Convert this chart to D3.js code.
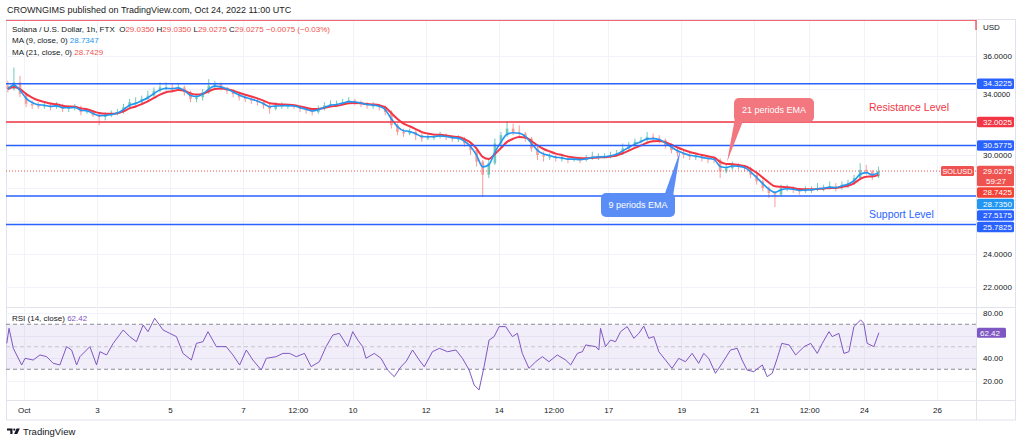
<!DOCTYPE html>
<html><head><meta charset="utf-8">
<script src="https://cdn.jsdelivr.net/npm/d3@7"></script>
<style>
body{margin:0;background:#fff}
svg{display:block}
text{font-family:"Liberation Sans",Arial,sans-serif}
</style></head>
<body><svg id="c" width="1024" height="443"></svg>
<script>
// ---------- data ----------
const startTime = "2022-09-30T12:00:00Z";
const candleStepHours = 4;
const firstOpen = 34.2;
const closes = [
34.0, 34.4, 33.7, 33.1, 33.0, 32.95, 33.0, 32.9, 33.0, 32.8,
32.85, 32.9, 32.6, 32.65, 32.4, 32.3, 32.4, 32.5, 32.6, 32.9,
33.2, 33.2, 33.4, 33.6, 33.9, 34.1, 34.1, 34.0, 34.1, 33.8,
33.4, 33.5, 33.8, 34.2, 34.3, 34.1, 33.9, 33.7, 33.5, 33.4,
33.3, 33.2, 33.0, 32.8, 33.0, 33.0, 33.0, 32.95, 32.8, 32.7,
32.6, 32.8, 33.0, 33.1, 33.1, 33.2, 33.3, 33.2, 33.1, 33.0,
33.0, 32.9, 32.6, 31.8, 31.4, 31.3, 31.4, 31.2, 31.0, 31.1,
31.1, 31.2, 31.1, 31.0, 31.0, 30.7, 30.3, 29.6, 28.8, 29.5,
30.7, 31.2, 31.6, 31.4, 31.3, 31.0, 30.4, 30.0, 29.9, 29.9,
29.8, 29.8, 29.7, 29.75, 29.7, 29.8, 29.9, 29.9, 29.9, 30.0,
30.1, 30.4, 30.6, 30.8, 30.9, 31.1, 31.0, 30.9, 30.6, 30.3,
30.1, 30.0, 29.9, 29.9, 29.8, 29.75, 29.7, 29.0, 29.2, 29.4,
29.3, 29.2, 28.8, 28.4, 28.0, 27.7, 27.6, 28.0, 28.0, 27.9,
27.8, 27.9, 27.9, 28.0, 28.0, 28.1, 28.0, 28.2, 28.3, 28.6,
29.1, 29.0, 28.7, 29.0275
];
const highs = [
34.5, 35.3, 34.8, 33.8, 33.3, 33.2, 33.2, 33.2, 33.2, 33.1,
33.0, 33.1, 33.0, 32.8, 32.7, 32.5, 32.6, 32.7, 32.8, 33.1,
33.4, 33.5, 33.6, 33.9, 34.1, 34.4, 34.4, 34.3, 34.3, 34.2,
33.9, 33.7, 34.0, 34.6, 34.5, 34.4, 34.1, 34.0, 33.8, 33.6,
33.5, 33.4, 33.3, 33.1, 33.2, 33.2, 33.1, 33.1, 33.0, 32.9,
32.8, 33.0, 33.2, 33.3, 33.3, 33.4, 33.5, 33.4, 33.3, 33.2,
33.2, 33.1, 33.0, 32.7, 31.9, 31.6, 31.6, 31.5, 31.3, 31.3,
31.3, 31.4, 31.3, 31.2, 31.2, 31.1, 30.8, 30.4, 29.7, 29.8,
31.0, 31.4, 32.05, 31.9, 31.8, 31.4, 31.1, 30.5, 30.2, 30.1,
30.0, 30.0, 29.9, 29.9, 29.9, 30.0, 30.2, 30.1, 30.1, 30.2,
30.3, 30.7, 30.8, 31.0, 31.1, 31.4, 31.3, 31.2, 31.0, 30.7,
30.4, 30.3, 30.2, 30.1, 30.0, 29.9, 29.9, 29.8, 29.4, 29.6,
29.5, 29.4, 29.3, 28.9, 28.5, 28.1, 27.8, 28.2, 28.2, 28.1,
28.0, 28.1, 28.1, 28.3, 28.2, 28.4, 28.3, 28.4, 28.5, 28.8,
29.5, 29.4, 29.1, 29.3
];
const lows = [
33.8, 33.9, 33.5, 32.9, 32.8, 32.8, 32.8, 32.7, 32.8, 32.6,
32.6, 32.7, 32.4, 32.5, 32.3, 31.8, 32.1, 32.3, 32.4, 32.5,
32.8, 33.0, 33.1, 33.3, 33.5, 33.8, 33.9, 33.8, 33.9, 33.6,
33.2, 33.2, 33.3, 33.7, 34.0, 33.9, 33.7, 33.5, 33.3, 33.2,
33.1, 33.0, 32.8, 32.5, 32.7, 32.8, 32.8, 32.8, 32.6, 32.5,
32.4, 32.5, 32.7, 32.9, 32.9, 33.0, 33.1, 33.0, 32.9, 32.8,
32.8, 32.7, 32.4, 31.6, 31.2, 31.1, 31.2, 30.9, 30.8, 30.9,
30.9, 31.0, 30.9, 30.8, 30.8, 30.5, 30.0, 29.3, 27.45, 28.6,
29.4, 30.5, 31.1, 31.2, 31.1, 30.8, 30.2, 29.7, 29.6, 29.7,
29.6, 29.6, 29.5, 29.6, 29.5, 29.6, 29.7, 29.7, 29.8, 29.8,
29.9, 30.0, 30.3, 30.5, 30.7, 30.8, 30.8, 30.7, 30.4, 30.1,
29.9, 29.8, 29.7, 29.7, 29.6, 29.5, 29.5, 28.6, 28.9, 29.1,
29.1, 29.0, 28.6, 28.2, 27.8, 27.4, 26.85, 27.5, 27.8, 27.7,
27.6, 27.7, 27.7, 27.8, 27.8, 27.9, 27.8, 27.9, 28.0, 28.2,
28.5, 28.8, 28.5, 28.6
];
const emaPeriods = [9, 21];
const ma9Value = 28.7347;
const ma21Value = 28.7429;

const rsiHours = [
0.8, 2.3, 5.1, 10.6, 12.8, 18.2, 22.6, 27, 31.3, 35.7, 40.1, 43.4, 46.7, 48.9, 55.4, 59.8, 62, 66.4, 70.7, 77.3,
81.6, 86, 90.4, 93.6, 98, 103.5, 107.9, 112.3, 116.6, 122.1, 125.4, 129.7, 133, 138.5, 145, 149.4, 153.8, 158.2, 162.5, 168,
171.3, 177.8, 182.2, 186.6, 191, 196.4, 200.8, 206.2, 210.6, 215, 219.3, 224.8, 228.1, 231.4, 234.6, 236.8, 242.3, 246.7, 251, 255.4,
259.8, 263.1, 267.4, 271.8, 275.1, 280.5, 285, 290.4, 295.9, 300.2, 304.6, 307.9, 311.1, 314.4, 317.7, 321, 324.3, 328.6, 333, 336.3,
339.5, 343.9, 348.3, 352.7, 357, 362.5, 368, 371.3, 375.7, 379, 381.2, 387.7, 389.8, 390.9, 394.2, 397.5, 400.8, 404.1, 408.4, 412.8,
416.1, 419.3, 422.6, 425.9, 429.2, 433.6, 437.9, 442.3, 446.7, 451.1, 455.4, 458.7, 462, 466.4, 470.8, 476.3, 480.7, 483.9, 487.2, 491.6,
497.2, 500.4, 503.7, 507, 510, 514.8, 519.1, 524.6, 529, 533.3, 536.6, 541, 543.1, 547.5, 550.8, 554.1, 557.4, 561.8, 563.9, 566.1,
570.5, 573.8
];
const rsiValues = [
53.0, 66.4, 48.6, 33.8, 39.7, 38.2, 42.7, 41.2, 35.3, 33.8, 50.1, 47.1, 33.8, 41.2, 50.1, 33.8, 45.6, 42.7, 53.0, 64.9,
59.0, 54.5, 69.3, 63.4, 75.3, 64.9, 61.9, 59.0, 44.1, 38.2, 53.0, 54.5, 63.4, 50.1, 50.1, 42.7, 33.8, 47.1, 38.2, 29.3,
39.7, 41.2, 44.1, 44.1, 41.2, 44.1, 32.3, 36.7, 50.1, 60.4, 61.9, 50.1, 63.4, 56.0, 50.1, 39.7, 44.1, 39.7, 29.3, 23.4,
32.3, 36.7, 47.1, 38.2, 32.3, 45.6, 48.6, 45.6, 47.1, 39.7, 29.3, 16.0, 11.6, 32.3, 56.0, 59.0, 67.9, 67.9, 59.0, 61.9,
44.1, 30.8, 36.7, 41.2, 36.7, 42.7, 38.2, 33.8, 44.1, 45.6, 51.6, 50.1, 47.1, 66.4, 50.1, 56.0, 54.5, 63.4, 67.9, 57.5,
61.9, 68.4, 57.5, 59.0, 45.6, 38.2, 30.8, 39.7, 36.7, 44.1, 35.3, 44.1, 39.7, 26.4, 35.3, 47.1, 48.6, 38.2, 29.3, 27.9,
33.8, 23.4, 26.4, 39.7, 53.0, 51.6, 42.7, 50.1, 53.0, 44.1, 53.0, 63.4, 59.0, 61.9, 44.1, 45.6, 67.9, 73.8, 70.8, 53.0,
50.1, 62.42
];
const rsiLast = 62.42;

const supportResistanceBlue = [34.3225, 30.5775, 27.5175, 25.7825];
const resistanceRed = [32.0025];
const topDrawingLevel = 38.18;
const lastClose = 29.0275;
const priceGridTicks = [36, 34, 32, 30, 28, 26, 24, 22];
const priceLabelTicks = [36, 34, 30, 24, 22];
const rsiGridTicks = [80, 60, 40, 20];
const rsiLabelTicks = [80, 40, 20];
const rsiBands = [70, 50, 30];
const timeTickDates = ["2022-10-01T00:00Z","2022-10-03T00:00Z","2022-10-05T00:00Z","2022-10-07T00:00Z","2022-10-08T12:00Z",
  "2022-10-10T00:00Z","2022-10-12T00:00Z","2022-10-14T00:00Z","2022-10-15T12:00Z","2022-10-17T00:00Z","2022-10-19T00:00Z",
  "2022-10-21T00:00Z","2022-10-22T12:00Z","2022-10-24T00:00Z","2022-10-26T00:00Z"];
const timeTickLabels = ["Oct","3","5","7","12:00","10","12","14","12:00","17","19","21","12:00","24","26"];

// ---------- layout ----------
const svg = d3.select("#c");
const L = 6, R = 976, FR = 1016, mainT = 20, mainB = 307, rsiB = 400, axB = 420;
const HOUR = 3600e3;
const t0 = new Date(startTime);
const x = d3.scaleUtc().domain([t0, new Date(+t0 + 637.6 * HOUR)]).range([5.54, 976]);
const y = d3.scaleLinear().domain([36, 22]).range([56, 287]);
const yr = d3.scaleLinear().domain([80, 20]).range([313, 380.5]);
const txt = "#131722", grid = "#f0f3fa", border = "#e0e3eb";
const FONT = '"Liberation Sans",Arial,sans-serif';

// header
svg.append("text").attr("x", 7).attr("y", 13).attr("font-size", 9).attr("fill", "#222")
  .text("CROWNGIMS published on TradingView.com, Oct 24, 2022 11:00 UTC");

// frame
svg.append("rect").attr("x", L + 0.5).attr("y", 19.5).attr("width", FR - L - 1).attr("height", axB - 19.5)
  .attr("fill", "none").attr("stroke", border);
[mainB, rsiB].forEach(v => svg.append("line").attr("x1", L).attr("x2", FR).attr("y1", v + 0.5).attr("y2", v + 0.5).attr("stroke", border));
svg.append("line").attr("x1", R + 0.5).attr("x2", R + 0.5).attr("y1", 19).attr("y2", axB).attr("stroke", border);

// grid
const tickDates = timeTickDates.map(d => new Date(d));
svg.append("g").selectAll("line").data(tickDates).join("line")
  .attr("x1", d => Math.round(x(d)) + 0.5).attr("x2", d => Math.round(x(d)) + 0.5)
  .attr("y1", mainT).attr("y2", rsiB).attr("stroke", grid);
svg.append("g").selectAll("line").data(priceGridTicks).join("line")
  .attr("x1", L).attr("x2", R).attr("y1", d => Math.round(y(d)) + 0.5).attr("y2", d => Math.round(y(d)) + 0.5).attr("stroke", grid);
svg.append("g").selectAll("line").data(rsiGridTicks).join("line")
  .attr("x1", L).attr("x2", R).attr("y1", d => Math.round(yr(d)) + 0.5).attr("y2", d => Math.round(yr(d)) + 0.5).attr("stroke", grid);

// clip
svg.append("clipPath").attr("id", "cm").append("rect").attr("x", L).attr("y", mainT).attr("width", R - L).attr("height", mainB - mainT);
const gm = svg.append("g").attr("clip-path", "url(#cm)");

// top drawing line
gm.append("line").attr("x1", L).attr("x2", R).attr("y1", y(topDrawingLevel)).attr("y2", y(topDrawingLevel))
  .attr("stroke", "#f23645").attr("stroke-width", 1.5);
svg.append("line").attr("x1", R).attr("x2", R).attr("y1", y(topDrawingLevel)).attr("y2", 30).attr("stroke", "#f23645").attr("stroke-width", 1.2);

// candles
const candles = closes.map((c, i) => ({
  t: new Date(+t0 + (i * candleStepHours + 1.5) * HOUR),
  o: i === 0 ? firstOpen : closes[i - 1], c, h: highs[i], l: lows[i]
}));
const upC = "#72c8bd", dnC = "#f49d9b";
gm.append("g").selectAll("line").data(candles).join("line")
  .attr("x1", d => x(d.t)).attr("x2", d => x(d.t)).attr("y1", d => y(d.h)).attr("y2", d => y(d.l))
  .attr("stroke", d => d.c >= d.o ? upC : dnC).attr("stroke-width", 1);
gm.append("g").selectAll("rect").data(candles).join("rect")
  .attr("x", d => x(d.t) - 1.3).attr("width", 2.6)
  .attr("y", d => Math.min(y(d.o), y(d.c))).attr("height", d => Math.max(1, Math.abs(y(d.o) - y(d.c))))
  .attr("fill", d => d.c >= d.o ? upC : dnC);

// EMA lines (computed from the closes, hourly period converted to the 4h step)
function ema(period) {
  const a = 1 - Math.pow(1 - 2 / (period + 1), candleStepHours);
  let e = closes[0];
  return closes.map((c, i) => (e = i === 0 ? c : e + a * (c - e)));
}
const emaColors = ["#2196f3", "#f23645"];
const emaWidths = [1.6, 2];
[1, 0].forEach(k => {
  const vals = ema(emaPeriods[k]);
  gm.append("path").datum(vals.map((v, i) => [candles[i].t, v]))
    .attr("fill", "none").attr("stroke", emaColors[k]).attr("stroke-width", emaWidths[k])
    .attr("d", d3.line().x(d => x(d[0])).y(d => y(d[1])).curve(d3.curveMonotoneX));
});

// levels
gm.append("g").selectAll("line").data(supportResistanceBlue).join("line")
  .attr("x1", L).attr("x2", R).attr("y1", d => y(d)).attr("y2", d => y(d)).attr("stroke", "#2962ff").attr("stroke-width", 1.5);
gm.append("g").selectAll("line").data(resistanceRed).join("line")
  .attr("x1", L).attr("x2", R).attr("y1", d => y(d)).attr("y2", d => y(d)).attr("stroke", "#f23645").attr("stroke-width", 1.5);
gm.append("line").attr("x1", L).attr("x2", R).attr("y1", y(lastClose)).attr("y2", y(lastClose))
  .attr("stroke", "#ef5350").attr("stroke-width", 1).attr("stroke-dasharray", "1,2");

// annotations
gm.append("text").attr("x", 869).attr("y", 111).attr("font-size", 10.5).attr("fill", "#f23645").text("Resistance Level");
gm.append("text").attr("x", 869).attr("y", 218).attr("font-size", 10.5).attr("fill", "#2962ff").text("Support Level");
function callout(bx, by, bw, bh, tail, fill, label) {
  const g = gm.append("g");
  g.append("path").attr("d", "M" + tail.map(p => p.join(",")).join("L") + "Z").attr("fill", fill);
  g.append("rect").attr("x", bx).attr("y", by).attr("width", bw).attr("height", bh).attr("rx", 5).attr("fill", fill);
  g.append("text").attr("x", bx + bw / 2).attr("y", by + bh / 2 + 3.2).attr("text-anchor", "middle")
    .attr("font-size", 9).attr("fill", "#fff").text(label);
}
callout(734, 98, 80, 24, [[735, 118], [743, 121], [727, 162]], "#f2777f", "21 periods EMA");
callout(601, 193, 74, 24, [[664, 196], [673, 196], [680.5, 150]], "#5a8ef6", "9 periods EMA");

// legend (natural text flow)
const red = "#ef5350";
const lg = svg.append("g").attr("font-size", 8);
const l1 = lg.append("text").attr("x", 12).attr("y", 32.3).attr("fill", txt);
[["Solana / U.S. Dollar, 1h, FTX  O", txt], ["29.0350", red], [" H", txt], ["29.0350", red], [" L", txt], ["29.0275", red],
 [" C", txt], ["29.0275", red], [" \u22120.0075 (\u22120.03%)", red]]
  .forEach(s => l1.append("tspan").attr("fill", s[1]).text(s[0]));
l1.attr("xml:space", "preserve").style("white-space", "pre");
const l2 = lg.append("text").attr("x", 12).attr("y", 43).attr("fill", txt);
l2.append("tspan").text("MA (9, close, 0) ");
l2.append("tspan").attr("fill", "#2196f3").text(ma9Value.toFixed(4));
const l3 = lg.append("text").attr("x", 12).attr("y", 54.6).attr("fill", txt);
l3.append("tspan").text("MA (21, close, 0) ");
l3.append("tspan").attr("fill", red).text(ma21Value.toFixed(4));

// price axis
svg.append("text").attr("x", 983).attr("y", 30).attr("font-size", 8).attr("fill", txt).text("USD");
const pa = svg.append("g").attr("transform", `translate(${R},0)`)
  .call(d3.axisRight(y).tickValues(priceLabelTicks).tickFormat(d3.format(".4f")).tickSize(0).tickPadding(7));
pa.select(".domain").remove();
pa.selectAll("text").attr("font-size", 8).attr("fill", txt).attr("font-family", FONT);
// the 34 label sits just below the 34.3225 marker box, as in the reference
pa.selectAll(".tick").filter(d => d === 34).select("text").attr("dy", "0.95em").attr("font-size", 7.5);

const tickRound = v => Math.round(v / 0.0025) * 0.0025;
const axisLabels = [
  { v: 34.3225, c: "#2962ff" }, { v: 32.0025, c: "#f23645" }, { v: 30.5775, c: "#2962ff" },
  { v: lastClose, c: "#ef5350", sub: "59:27" }, { v: tickRound(ma21Value), c: "#f44336" },
  { v: tickRound(ma9Value), c: "#2196f3" }, { v: 27.5175, c: "#2962ff" }, { v: 25.7825, c: "#2962ff" }
];
let prevBottom = -1e9;
const bh = 10.5;
axisLabels.forEach(a => {
  const h = a.sub ? 20.5 : bh;
  let top = Math.max(y(a.v) - bh / 2, prevBottom + 1);
  prevBottom = top + h;
  svg.append("rect").attr("x", 977).attr("y", top).attr("width", 37).attr("height", h).attr("rx", 1.5).attr("fill", a.c);
  svg.append("text").attr("x", 983).attr("y", top + 8).attr("font-size", 8).attr("fill", "#fff").text(a.v.toFixed(4));
  if (a.sub) svg.append("text").attr("x", 986).attr("y", top + 18).attr("font-size", 8).attr("fill", "#fff").text(a.sub);
});
svg.append("rect").attr("x", 941).attr("y", y(lastClose) - 5).attr("width", 33).attr("height", 10).attr("rx", 1.5).attr("fill", "#ef5350");
svg.append("text").attr("x", 957.5).attr("y", y(lastClose) + 2.8).attr("text-anchor", "middle").attr("font-size", 7.3).attr("fill", "#fff").text("SOLUSD");

// RSI pane
svg.append("rect").attr("x", L).attr("y", yr(70)).attr("width", R - L).attr("height", yr(30) - yr(70)).attr("fill", "#7e57c2").attr("fill-opacity", 0.1);
svg.append("g").selectAll("line").data(rsiBands).join("line")
  .attr("x1", L).attr("x2", R).attr("y1", d => yr(d)).attr("y2", d => yr(d))
  .attr("stroke", d => d === 50 ? "#c3c5cc" : "#8a8d96").attr("stroke-dasharray", "4,3").attr("stroke-width", 1);
svg.append("path").datum(rsiHours.map((h, i) => [new Date(+t0 + h * HOUR), rsiValues[i]]))
  .attr("fill", "none").attr("stroke", "#7e57c2").attr("stroke-width", 1)
  .attr("d", d3.line().x(d => x(d[0])).y(d => yr(d[1])));
const rl = svg.append("text").attr("x", 12).attr("y", 321).attr("font-size", 8);
rl.append("tspan").attr("fill", txt).text("RSI (14, close) ");
rl.append("tspan").attr("fill", "#7e57c2").text(rsiLast.toFixed(2));
const ra = svg.append("g").attr("transform", `translate(${R},0)`)
  .call(d3.axisRight(yr).tickValues(rsiLabelTicks).tickFormat(d3.format(".2f")).tickSize(0).tickPadding(7));
ra.select(".domain").remove();
ra.selectAll("text").attr("font-size", 8).attr("fill", txt).attr("font-family", FONT);
svg.append("rect").attr("x", 977).attr("y", yr(rsiLast) - 5).attr("width", 29).attr("height", 10).attr("rx", 1.5).attr("fill", "#7e57c2");
svg.append("text").attr("x", 980).attr("y", yr(rsiLast) + 3).attr("font-size", 8).attr("fill", "#fff").text(rsiLast.toFixed(2));

// time axis
const ta = svg.append("g").attr("transform", `translate(0,${rsiB})`)
  .call(d3.axisBottom(x).tickValues(tickDates).tickFormat((d, i) => timeTickLabels[i]).tickSize(0).tickPadding(7));
ta.select(".domain").remove();
ta.selectAll("text").attr("font-size", 8).attr("fill", txt).attr("font-family", FONT);

// TradingView logo
const logo = svg.append("g").attr("fill", txt);
logo.append("path").attr("d", "M7,428.5h5.5v5.5h-2.2v-3.4h-3.3z");
logo.append("circle").attr("cx", 14.3).attr("cy", 429.6).attr("r", 1.1);
logo.append("path").attr("d", "M16.5,428.5h3.3l-2.6,5.5h-3.1z");
svg.append("text").attr("x", 23).attr("y", 434.5).attr("font-size", 9.5).attr("fill", txt).text("TradingView");
</script>
</body></html>
